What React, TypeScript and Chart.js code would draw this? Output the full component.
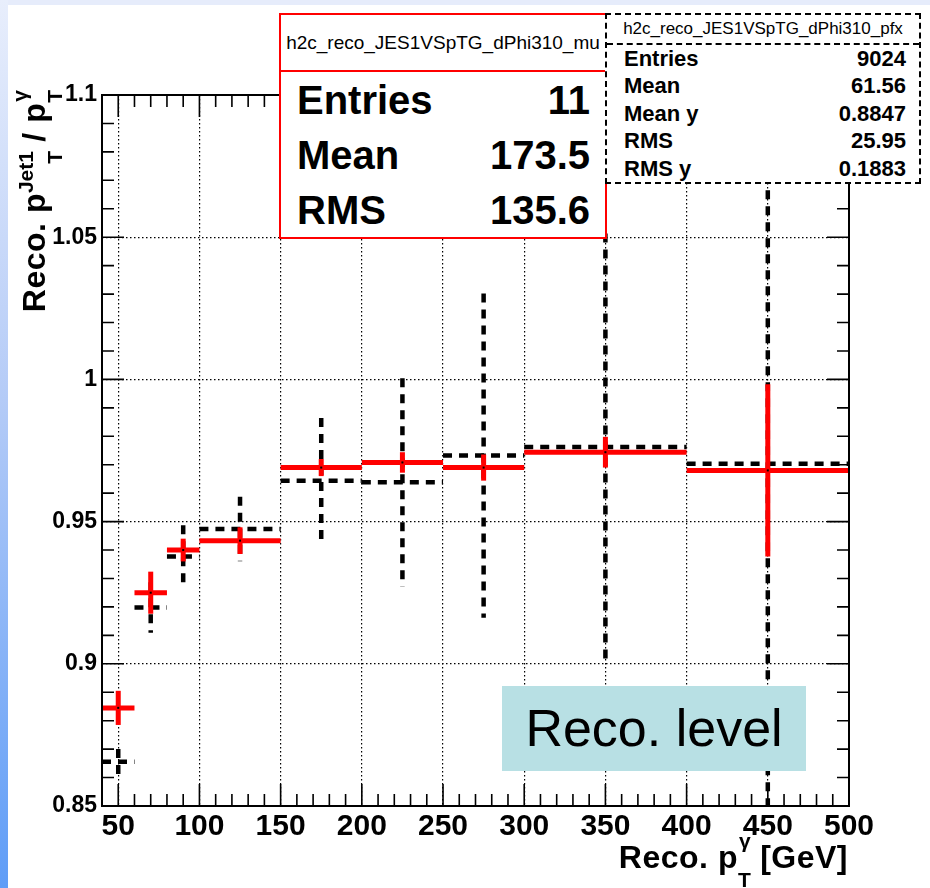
import React, { useEffect, useRef } from 'react';
import { Chart, registerables } from 'chart.js';

Chart.register(...registerables);

const FONT = '"Liberation Sans", Arial, Helvetica, sans-serif';

// ---- data ----
const binLow = [40, 60, 80, 100, 150, 200, 250, 300, 400];
const binHigh = [60, 80, 100, 150, 200, 250, 300, 400, 500];
const muValue = [0.8845, 0.925, 0.940, 0.9433, 0.969, 0.9708, 0.969, 0.9744, 0.968];
const muError = [0.006, 0.0074, 0.004, 0.0047, 0.003, 0.0036, 0.0046, 0.0054, 0.0303];
const pfxValue = [0.8656, 0.9198, 0.9377, 0.9474, 0.9644, 0.9638, 0.9732, 0.9762, 0.9703];
const pfxError = [0.0044, 0.0089, 0.011, 0.0113, 0.022, 0.0366, 0.057, 0.0751, 0.13];

const xTickValues = [50, 100, 150, 200, 250, 300, 350, 400, 450, 500];
const xTickLabels = ['50', '100', '150', '200', '250', '300', '350', '400', '450', '500'];
const yTickValues = [0.85, 0.9, 0.95, 1, 1.05, 1.1];
const yTickLabels = ['0.85', '0.9', '0.95', '1', '1.05', '1.1'];

const muTitle = 'h2c_reco_JES1VSpTG_dPhi310_mu';
const muStats = [
  ['Entries', '11'],
  ['Mean', '173.5'],
  ['RMS', '135.6'],
];
const pfxTitle = 'h2c_reco_JES1VSpTG_dPhi310_pfx';
const pfxStats = [
  ['Entries', '9024'],
  ['Mean', '61.56'],
  ['Mean y', '0.8847'],
  ['RMS', '25.95'],
  ['RMS y', '0.1883'],
];
const levelText = 'Reco. level';

const X_MIN = 40;
const X_MAX = 500;
const Y_MIN = 0.85;
const Y_MAX = 1.1;

function drawSeries(ctx, x, y, values, errors, color, width, dash, dot) {
  ctx.save();
  ctx.strokeStyle = color;
  ctx.lineWidth = width;
  ctx.lineCap = 'butt';
  ctx.setLineDash(dash);
  for (let i = 0; i < values.length; i++) {
    const xl = x.getPixelForValue(binLow[i]);
    const xr = x.getPixelForValue(binHigh[i]);
    const xc = x.getPixelForValue((binLow[i] + binHigh[i]) / 2);
    const yc = y.getPixelForValue(values[i]);
    const yt = y.getPixelForValue(values[i] + errors[i]);
    const yb = y.getPixelForValue(values[i] - errors[i]);
    ctx.beginPath();
    ctx.moveTo(xl, yc);
    ctx.lineTo(xr, yc);
    ctx.stroke();
    ctx.beginPath();
    ctx.moveTo(xc, yt);
    ctx.lineTo(xc, yb);
    ctx.stroke();
    if (dot) {
      ctx.fillStyle = '#000';
      ctx.fillRect(xc - 1, yc - 1, 2, 2);
    }
  }
  ctx.restore();
}

const rootPlugin = {
  id: 'rootPlugin',
  afterDatasetsDraw(chart) {
    const { ctx, chartArea: a } = chart;
    const x = chart.scales.x;
    const y = chart.scales.y;
    ctx.save();
    ctx.beginPath();
    ctx.rect(a.left, a.top, a.right - a.left, a.bottom - a.top);
    ctx.clip();
    drawSeries(ctx, x, y, pfxValue, pfxError, '#000', 4.5, [9, 7], false);
    drawSeries(ctx, x, y, muValue, muError, '#ff0000', 5, [], true);
    ctx.restore();

    ctx.save();
    ctx.strokeStyle = '#000';
    ctx.lineWidth = 2;
    ctx.strokeRect(a.left, a.top, a.right - a.left, a.bottom - a.top);
    ctx.lineWidth = 1.6;
    ctx.beginPath();
    // x ticks (every 10, major every 50)
    for (let i = 5; i < 50; i++) {
      const v = i * 10;
      const len = v % 50 === 0 ? 22 : 12;
      const px = x.getPixelForValue(v);
      ctx.moveTo(px, a.bottom);
      ctx.lineTo(px, a.bottom - len);
      ctx.moveTo(px, a.top);
      ctx.lineTo(px, a.top + len);
    }
    // y ticks (every 0.01, major every 0.05)
    for (let i = 86; i < 110; i++) {
      const v = i / 100;
      const len = i % 5 === 0 ? 22 : 12;
      const py = y.getPixelForValue(v);
      ctx.moveTo(a.left, py);
      ctx.lineTo(a.left + len, py);
      ctx.moveTo(a.right, py);
      ctx.lineTo(a.right - len, py);
    }
    ctx.stroke();
    ctx.restore();
  },
};

function SubSup({ sub, sup, up, down, size }) {
  return (
    <span style={{ display: 'inline-grid', fontSize: size, lineHeight: 1, verticalAlign: 'baseline', letterSpacing: 0 }}>
      <span style={{ gridArea: '1 / 1', position: 'relative', top: -up }}>{sup}</span>
      <span style={{ gridArea: '1 / 1', position: 'relative', top: down }}>{sub}</span>
    </span>
  );
}

export default function App() {
  const ref = useRef(null);

  useEffect(() => {
    const edgeColor = (ctx, lo, hi) => {
      const v = ctx.tick ? ctx.tick.value : NaN;
      if (Math.abs(v - lo) < 1e-9 || Math.abs(v - hi) < 1e-9) return 'rgba(0,0,0,0)';
      return '#000';
    };
    const chart = new Chart(ref.current, {
      type: 'scatter',
      data: {
        datasets: [
          {
            label: 'pfx',
            data: binLow.map((lo, i) => ({ x: (lo + binHigh[i]) / 2, y: pfxValue[i] })),
            pointRadius: 0,
            showLine: false,
          },
          {
            label: 'mu',
            data: binLow.map((lo, i) => ({ x: (lo + binHigh[i]) / 2, y: muValue[i] })),
            pointRadius: 0,
            showLine: false,
          },
        ],
      },
      options: {
        responsive: false,
        animation: false,
        devicePixelRatio: 1,
        events: [],
        layout: { padding: { top: 95, right: 81, left: 0, bottom: 0 } },
        plugins: { legend: { display: false }, tooltip: { enabled: false } },
        scales: {
          x: {
            type: 'linear',
            min: X_MIN,
            max: X_MAX,
            afterBuildTicks: (s) => {
              s.ticks = xTickValues.map((v) => ({ value: v }));
            },
            afterFit: (s) => {
              s.height = 82;
            },
            ticks: {
              callback: (v) => xTickLabels[xTickValues.indexOf(v)],
              font: { family: FONT, size: 30, weight: 'bold' },
              color: '#000',
              padding: 3,
              maxRotation: 0,
              autoSkip: false,
            },
            grid: {
              color: (c) => edgeColor(c, X_MIN, X_MAX),
              lineWidth: 1.2,
              drawTicks: false,
            },
            border: { display: false, dash: [1.5, 2.5] },
          },
          y: {
            type: 'linear',
            min: Y_MIN,
            max: Y_MAX,
            afterBuildTicks: (s) => {
              s.ticks = yTickValues.map((v) => ({ value: v }));
            },
            afterFit: (s) => {
              s.width = 102;
            },
            ticks: {
              callback: (v) => {
                const i = yTickValues.findIndex((t) => Math.abs(t - v) < 1e-9);
                return yTickLabels[i];
              },
              font: { family: FONT, size: 23, weight: 'bold' },
              color: '#000',
              padding: 5,
              autoSkip: false,
            },
            grid: {
              color: (c) => edgeColor(c, Y_MIN, Y_MAX),
              lineWidth: 1.2,
              drawTicks: false,
            },
            border: { display: false, dash: [1.5, 2.5] },
          },
        },
      },
      plugins: [rootPlugin],
    });
    return () => chart.destroy();
  }, []);

  return (
    <div
      style={{
        position: 'fixed',
        left: 0,
        top: 0,
        width: 930,
        height: 888,
        background: '#fff',
        overflow: 'hidden',
        fontFamily: FONT,
        color: '#000',
      }}
    >
      <div style={{ position: 'absolute', left: 0, top: 0, width: 930, height: 5, background: '#e6ecfb' }} />
      <div
        style={{
          position: 'absolute',
          left: 0,
          top: 0,
          width: 8,
          height: 888,
          background: 'linear-gradient(#e8eefc, #b4cbf7 45%, #5f9df7)',
        }}
      />
      <canvas ref={ref} width={930} height={888} style={{ position: 'absolute', left: 0, top: 0 }} />

      {/* y axis title */}
      <div
        style={{
          position: 'absolute',
          left: 14,
          top: 490,
          width: 400,
          height: 40,
          lineHeight: '40px',
          fontSize: 32,
          fontWeight: 'bold',
          letterSpacing: 0.5,
          textAlign: 'right',
          whiteSpace: 'nowrap',
          transform: 'rotate(-90deg)',
          transformOrigin: '0 0',
        }}
      >
        Reco. p<SubSup sub="T" sup="Jet1" up={12} down={17} size={21} />
        {' / p'}
        <SubSup sub="T" sup="γ" up={18} down={17} size={21} />
      </div>

      {/* x axis title */}
      <div
        style={{
          position: 'absolute',
          left: 448,
          top: 837,
          width: 400,
          height: 40,
          lineHeight: '40px',
          fontSize: 32,
          fontWeight: 'bold',
          letterSpacing: 0.5,
          textAlign: 'right',
          whiteSpace: 'nowrap',
        }}
      >
        Reco. p<SubSup sub="T" sup="γ" up={20} down={19} size={21} />
        {' [GeV]'}
      </div>

      {/* mu stats box */}
      <div
        style={{
          position: 'absolute',
          left: 279,
          top: 13,
          width: 328,
          height: 226,
          boxSizing: 'border-box',
          border: '2px solid #ff0000',
          background: '#fff',
        }}
      >
        <div
          style={{
            height: 55,
            lineHeight: '55px',
            borderBottom: '2px solid #ff0000',
            textAlign: 'center',
            fontSize: 19,
            whiteSpace: 'nowrap',
          }}
        >
          {muTitle}
        </div>
        <div style={{ paddingTop: 1 }}>
          {muStats.map(([k, v]) => (
            <div
              key={k}
              style={{
                display: 'flex',
                justifyContent: 'space-between',
                height: 55,
                lineHeight: '55px',
                fontSize: 40,
                fontWeight: 'bold',
                padding: '0 15px 0 16px',
              }}
            >
              <span>{k}</span>
              <span>{v}</span>
            </div>
          ))}
        </div>
      </div>

      {/* pfx stats box */}
      <div
        style={{
          position: 'absolute',
          left: 605,
          top: 13,
          width: 316,
          height: 171,
          boxSizing: 'border-box',
          border: '2px dashed #000',
          background: '#fff',
        }}
      >
        <div
          style={{
            height: 28,
            lineHeight: '28px',
            borderBottom: '2px dashed #000',
            textAlign: 'center',
            fontSize: 17,
            whiteSpace: 'nowrap',
          }}
        >
          {pfxTitle}
        </div>
        <div>
          {pfxStats.map(([k, v]) => (
            <div
              key={k}
              style={{
                display: 'flex',
                justifyContent: 'space-between',
                height: 27.4,
                lineHeight: '27.4px',
                fontSize: 22,
                fontWeight: 'bold',
                padding: '0 13px 0 17px',
              }}
            >
              <span>{k}</span>
              <span>{v}</span>
            </div>
          ))}
        </div>
      </div>

      {/* Reco. level label */}
      <div
        style={{
          position: 'absolute',
          left: 502,
          top: 686,
          width: 304,
          height: 85,
          lineHeight: '85px',
          background: '#b8e0e4',
          textAlign: 'center',
          fontSize: 52,
          whiteSpace: 'nowrap',
        }}
      >
        {levelText}
      </div>
    </div>
  );
}
